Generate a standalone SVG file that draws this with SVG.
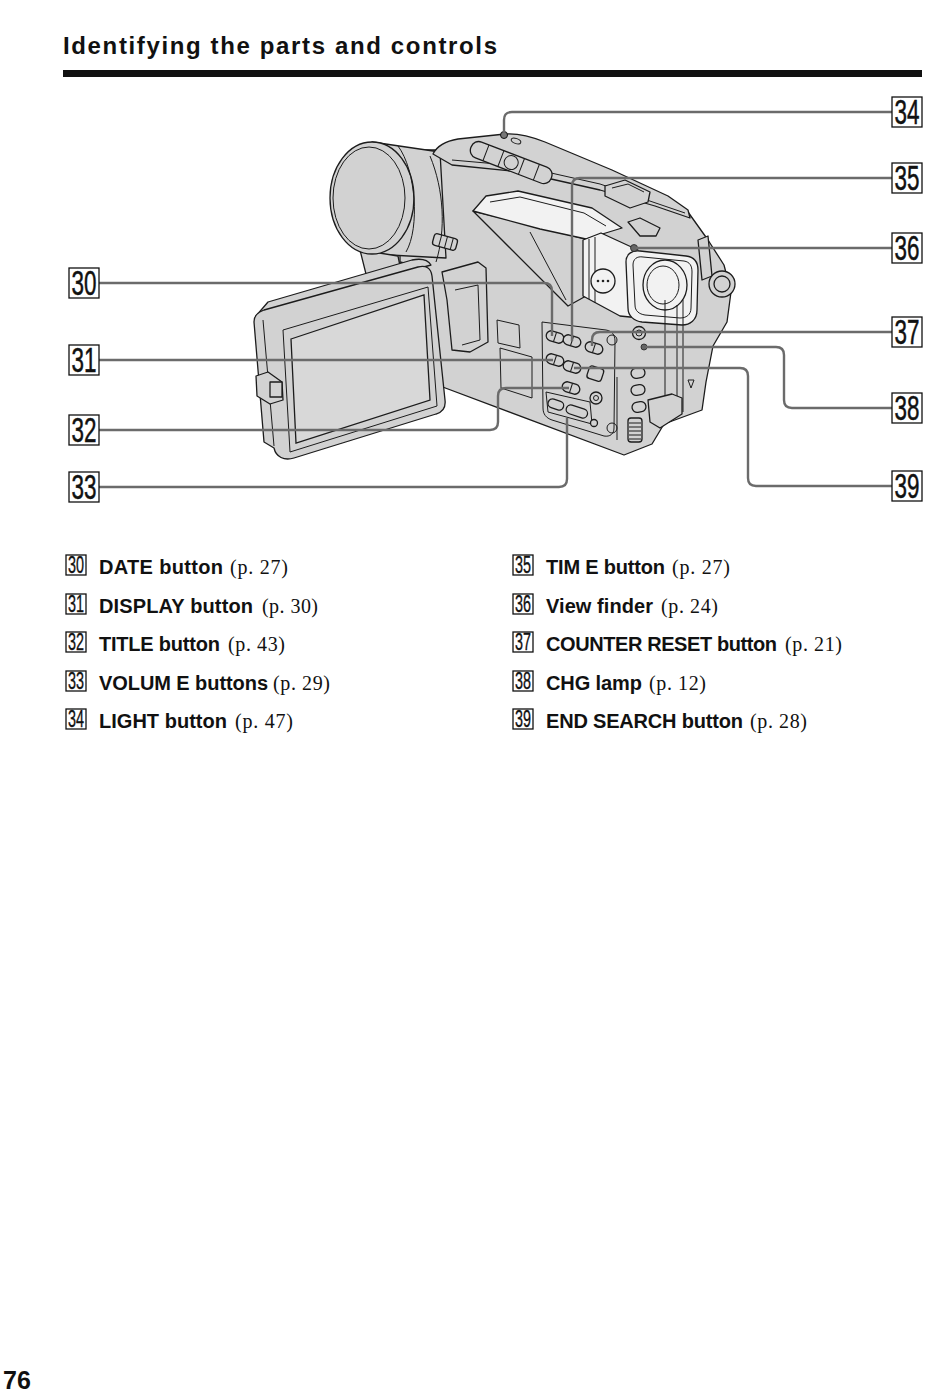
<svg xmlns="http://www.w3.org/2000/svg" width="950" height="1392" viewBox="0 0 950 1392">
<style>
.o{fill:#d2d2d2;stroke:#1c1c1c;stroke-width:1.3;stroke-linejoin:round}
.w{fill:#f2f2f2;stroke:#1c1c1c;stroke-width:1.3;stroke-linejoin:round}
.l{fill:none;stroke:#1c1c1c;stroke-width:1;stroke-linejoin:round}
.lead{fill:none;stroke:#6b6b6b;stroke-width:2.4;stroke-linejoin:round}
.box{fill:#fff;stroke:#111;stroke-width:1.3}
.num{font-family:"Liberation Sans",Arial,sans-serif;font-size:35px;text-anchor:middle;fill:#111;stroke:#111;stroke-width:0.5}
.lnum{font-family:"Liberation Sans",Arial,sans-serif;font-size:23px;text-anchor:middle;fill:#111;stroke:#111;stroke-width:0.35}
.lbl{font-family:"Liberation Sans",Arial,sans-serif;font-weight:bold;font-size:20px;fill:#111}
.pg{font-family:"Liberation Serif","Times New Roman",serif;font-size:20px;fill:#111}
</style>
<defs>
<g id="pill"><rect x="-9" y="-5" width="18" height="10" rx="5" class="o"/><line x1="0" y1="-5" x2="0" y2="5" stroke="#1c1c1c" stroke-width="1"/></g>
<g id="vpill"><rect x="-7" y="-5" width="14" height="10" rx="5" class="o"/></g>
</defs>
<rect width="950" height="1392" fill="#fff"/>

<g id="header">
<text x="63" y="54" font-family="'Liberation Sans',Arial,sans-serif" font-weight="bold" font-size="24" textLength="434" lengthAdjust="spacing" fill="#111">Identifying the parts and controls</text>
<rect x="63" y="70" width="859" height="7" fill="#111"/>
</g>

<g id="camera">
<path class="o" d="M 400 150 L 445 150 L 600 183 L 688 212 L 708 240 L 724 265 L 731 292 L 727 322 L 713 346 L 706 382 L 702 410 L 664 424 L 652 444 L 624 455 L 440 386 L 432 330 L 424 268 L 400 262 Z"/>
<path class="o" d="M 372 142 L 440 152 L 446 258 L 372 254 Z"/>
<path class="o" d="M 360 250 L 398 256 L 402 276 L 368 282 Z"/>
<ellipse class="o" cx="372" cy="198" rx="42" ry="56"/>
<ellipse class="l" cx="369" cy="198" rx="36" ry="51"/>
<path class="l" d="M 398 146 C 416 170 420 228 406 252"/>
<path class="l" d="M 430 156 C 444 190 446 230 436 262"/>
<g transform="rotate(15 445 242)"><rect x="433" y="236" width="24" height="12" rx="3" class="o"/><path class="l" d="M 440 236 V 248 M 446 236 V 248 M 452 236 V 248"/></g>
<path class="o" d="M 433 154 C 437 146 446 141 458 139 L 505 134 C 518 133 530 136 545 142 L 612 170 L 668 196 L 688 210 L 690 218 L 655 206 L 600 190 L 520 172 L 452 165 Z"/>
<path class="l" d="M 452 160 L 520 166 L 600 184 L 685 213"/>
<g transform="rotate(21 511 163)"><rect x="468" y="154" width="86" height="17" rx="8" class="o"/><path class="l" d="M 484 154 V 171 M 500 154 V 171 M 522 154 V 171 M 538 154 V 171"/><circle cx="511" cy="162.5" r="7" class="l"/></g>
<circle cx="504" cy="135" r="3.5" fill="#777" stroke="#111" stroke-width="1"/>
<ellipse cx="516" cy="141" rx="5" ry="2.5" transform="rotate(20 516 141)" class="l"/>
<path class="o" d="M 605 186 L 625 180 L 650 192 L 648 202 L 630 208 L 605 196 Z"/>
<path class="l" d="M 612 188 L 628 184 L 644 192"/>
<path class="o" d="M 628 222 L 640 218 L 660 228 L 656 236 L 640 236 Z"/>
<path class="o" d="M 473 211 L 586 239 L 586 296 L 568 306 Z"/>
<path class="l" d="M 530 232 L 566 300"/>
<path class="w" d="M 473 211 L 486 196 L 518 191 L 592 208 L 622 228 L 586 239 L 540 229 Z"/>
<path class="l" d="M 490 202 L 520 197 L 584 213 L 606 226"/>
<path class="w" d="M 583 240 L 601 233 L 638 250 L 640 318 L 620 316 L 583 296 Z"/>
<path class="l" d="M 589 239 L 589 299 M 595 237 L 595 303"/>
<circle cx="603" cy="281" r="12" class="w"/>
<circle cx="598" cy="281" r="1.3" fill="#222"/><circle cx="603" cy="281" r="1.3" fill="#222"/><circle cx="608" cy="281" r="1.3" fill="#222"/>
<path class="w" d="M 626 262 C 626 254 632 250 640 251 L 686 256 C 694 257 698 262 698 270 L 697 310 C 697 320 690 325 682 325 L 642 322 C 634 321 628 316 628 308 Z"/>
<path class="l" d="M 633 265 C 633 259 637 256 643 257 L 684 261 C 690 262 692 266 692 272 L 691 308 C 691 315 686 318 680 318 L 645 315 C 639 314 635 311 635 305 Z"/>
<ellipse class="w" cx="665" cy="285" rx="22" ry="25"/>
<ellipse class="l" cx="663" cy="285" rx="16" ry="19"/>
<circle cx="634" cy="248" r="3.5" fill="#666" stroke="#222" stroke-width="0.8"/>
<path class="o" d="M 698 240 L 708 236 L 712 276 L 702 280 Z"/>
<circle cx="722" cy="284" r="13" class="o"/>
<circle cx="722" cy="284" r="8" class="o"/>
<path class="l" d="M 665 300 L 665 420 M 677 305 L 677 415 M 683 300 L 683 412"/>
<path class="o" d="M 648 400 L 672 394 L 682 398 L 682 414 L 660 428 L 650 422 Z"/>
<path class="l" d="M 617 377 L 617 440"/>
<path class="l" d="M 688 380 L 694 380 L 691 388 Z"/>
<path class="o" d="M 442 272 L 478 262 L 486 268 L 488 342 L 470 352 L 452 350 L 447 300 Z"/>
<path class="l" d="M 455 290 L 478 285 L 480 340 L 462 345"/>
<path class="l" d="M 497 320 L 519 325 L 520 348 L 498 343 Z"/>
<path class="l" d="M 500 348 L 532 357 L 532 398 L 501 388 Z"/>
<path class="l" d="M 542 322 L 606 330 C 612 331 615 335 615 341 L 614 428 C 614 434 610 437 604 436 L 552 420 C 546 418 543 414 543 408 Z"/>
<path class="l" d="M 546 392 L 590 402 L 592 424 L 548 412 Z"/>
<use href="#pill" transform="translate(555 337) rotate(18)"/>
<use href="#pill" transform="translate(572 341) rotate(18)"/>
<use href="#pill" transform="translate(594 348) rotate(18)"/>
<use href="#pill" transform="translate(555 360) rotate(18)"/>
<use href="#pill" transform="translate(572 367) rotate(18)"/>
<use href="#pill" transform="translate(571 388) rotate(18)"/>
<rect x="588" y="367" width="15" height="13" rx="3" class="o" transform="rotate(18 595 373)"/>
<circle cx="596" cy="398" r="6" class="o"/><circle cx="596" cy="398" r="2.5" class="l"/>
<rect x="548" y="400" width="16" height="9" rx="4.5" class="o" transform="rotate(18 556 404)"/>
<rect x="566" y="407" width="22" height="9" rx="4.5" class="o" transform="rotate(18 577 411)"/>
<circle cx="594" cy="423" r="3.5" class="o"/>
<circle cx="612" cy="340" r="5" class="l"/>
<circle cx="612" cy="428" r="5" class="l"/>
<circle cx="639" cy="333" r="6.5" class="o"/><circle cx="639" cy="333" r="3" class="l"/>
<circle cx="644" cy="347" r="3" fill="#666" stroke="#222" stroke-width="0.8"/>
<use href="#vpill" transform="translate(638 373) rotate(-10)"/>
<use href="#vpill" transform="translate(638 390) rotate(-10)"/>
<use href="#vpill" transform="translate(639 407) rotate(-10)"/>
<rect x="628" y="418" width="14" height="24" rx="3" class="o"/>
<path class="l" d="M 629 423 H 641 M 629 427 H 641 M 629 431 H 641 M 629 435 H 641 M 629 439 H 641"/>
<path class="o" d="M 256 316 L 268 302 L 412 260 C 422 258 428 260 431 265 L 420 268 L 264 312 Z"/>
<path class="o" d="M 254 322 C 254 315 258 312 264 310 L 418 267 C 426 265 431 268 432 276 L 445 400 C 446 408 443 412 436 414 L 294 458 C 284 461 276 457 274 448 L 264 442 Z"/>
<path class="l" d="M 263 320 L 274 446"/>
<path class="l" d="M 283 330 L 428 287 L 437 406 L 290 452 Z"/>
<path d="M 291 339 L 424 295 L 430 400 L 296 443 Z" fill="#d8d8d8" stroke="#1c1c1c" stroke-width="1.3"/>
<path class="o" d="M 256 376 L 268 372 L 282 382 L 283 400 L 270 404 L 257 396 Z"/>
<rect x="270" y="382" width="12" height="15" class="o"/>
</g>

<g id="connectors">
<path class="lead" d="M 892 112 L 512 112 Q 504 112 504 120 L 504 133"/>
<path class="lead" d="M 892 178 L 580 178 Q 572 178 572 186 L 572 341"/>
<path class="lead" d="M 892 248 L 636 248"/>
<path class="lead" d="M 892 332 L 600 332 Q 592 332 592 340 L 592 346"/>
<path class="lead" d="M 646 347 L 776 347 Q 784 347 784 355 L 784 400 Q 784 408 792 408 L 892 408"/>
<path class="lead" d="M 574 368 L 740 368 Q 748 368 748 376 L 748 478 Q 748 486 756 486 L 892 486"/>
<path class="lead" d="M 99 283 L 544 283 Q 552 283 552 291 L 552 336"/>
<path class="lead" d="M 99 360 L 553 360"/>
<path class="lead" d="M 99 430 L 490 430 Q 498 430 498 422 L 498 396 Q 498 388 506 388 L 569 388"/>
<path class="lead" d="M 99 487 L 559 487 Q 567 487 567 479 L 567 418"/>
</g>

<g id="label-30"><rect class="box" x="69" y="268" width="30" height="30"/><text class="num" x="84" y="295" textLength="25" lengthAdjust="spacingAndGlyphs">30</text></g>
<g id="label-31"><rect class="box" x="69" y="345" width="30" height="30"/><text class="num" x="84" y="372" textLength="25" lengthAdjust="spacingAndGlyphs">31</text></g>
<g id="label-32"><rect class="box" x="69" y="415" width="30" height="30"/><text class="num" x="84" y="442" textLength="25" lengthAdjust="spacingAndGlyphs">32</text></g>
<g id="label-33"><rect class="box" x="69" y="472" width="30" height="30"/><text class="num" x="84" y="499" textLength="25" lengthAdjust="spacingAndGlyphs">33</text></g>
<g id="label-34"><rect class="box" x="892" y="97" width="30" height="30"/><text class="num" x="907" y="124" textLength="25" lengthAdjust="spacingAndGlyphs">34</text></g>
<g id="label-35"><rect class="box" x="892" y="163" width="30" height="30"/><text class="num" x="907" y="190" textLength="25" lengthAdjust="spacingAndGlyphs">35</text></g>
<g id="label-36"><rect class="box" x="892" y="233" width="30" height="30"/><text class="num" x="907" y="260" textLength="25" lengthAdjust="spacingAndGlyphs">36</text></g>
<g id="label-37"><rect class="box" x="892" y="317" width="30" height="30"/><text class="num" x="907" y="344" textLength="25" lengthAdjust="spacingAndGlyphs">37</text></g>
<g id="label-38"><rect class="box" x="892" y="393" width="30" height="30"/><text class="num" x="907" y="420" textLength="25" lengthAdjust="spacingAndGlyphs">38</text></g>
<g id="label-39"><rect class="box" x="892" y="471" width="30" height="30"/><text class="num" x="907" y="498" textLength="25" lengthAdjust="spacingAndGlyphs">39</text></g>

<g id="item-30"><rect class="box" x="66" y="555" width="20" height="20"/><text class="lnum" x="76" y="573" textLength="16" lengthAdjust="spacingAndGlyphs">30</text><text class="lbl" x="99" y="574" textLength="124" lengthAdjust="spacing">DATE button</text><text class="pg" x="230" y="574" textLength="58" lengthAdjust="spacing">(p. 27)</text></g>
<g id="item-31"><rect class="box" x="66" y="594" width="20" height="20"/><text class="lnum" x="76" y="612" textLength="16" lengthAdjust="spacingAndGlyphs">31</text><text class="lbl" x="99" y="613" textLength="154" lengthAdjust="spacing">DISPLAY button</text><text class="pg" x="262" y="613" textLength="56" lengthAdjust="spacing">(p. 30)</text></g>
<g id="item-32"><rect class="box" x="66" y="632" width="20" height="20"/><text class="lnum" x="76" y="650" textLength="16" lengthAdjust="spacingAndGlyphs">32</text><text class="lbl" x="99" y="651" textLength="121" lengthAdjust="spacing">TITLE button</text><text class="pg" x="228" y="651" textLength="57" lengthAdjust="spacing">(p. 43)</text></g>
<g id="item-33"><rect class="box" x="66" y="671" width="20" height="20"/><text class="lnum" x="76" y="689" textLength="16" lengthAdjust="spacingAndGlyphs">33</text><text class="lbl" x="99" y="690" textLength="169" lengthAdjust="spacing">VOLUM E buttons</text><text class="pg" x="273" y="690" textLength="57" lengthAdjust="spacing">(p. 29)</text></g>
<g id="item-34"><rect class="box" x="66" y="709" width="20" height="20"/><text class="lnum" x="76" y="727" textLength="16" lengthAdjust="spacingAndGlyphs">34</text><text class="lbl" x="99" y="728" textLength="128" lengthAdjust="spacing">LIGHT button</text><text class="pg" x="235" y="728" textLength="58" lengthAdjust="spacing">(p. 47)</text></g>

<g id="item-35"><rect class="box" x="513" y="555" width="20" height="20"/><text class="lnum" x="523" y="573" textLength="16" lengthAdjust="spacingAndGlyphs">35</text><text class="lbl" x="546" y="574" textLength="119" lengthAdjust="spacing">TIM E button</text><text class="pg" x="672" y="574" textLength="58" lengthAdjust="spacing">(p. 27)</text></g>
<g id="item-36"><rect class="box" x="513" y="594" width="20" height="20"/><text class="lnum" x="523" y="612" textLength="16" lengthAdjust="spacingAndGlyphs">36</text><text class="lbl" x="546" y="613" textLength="107" lengthAdjust="spacing">View finder</text><text class="pg" x="661" y="613" textLength="57" lengthAdjust="spacing">(p. 24)</text></g>
<g id="item-37"><rect class="box" x="513" y="632" width="20" height="20"/><text class="lnum" x="523" y="650" textLength="16" lengthAdjust="spacingAndGlyphs">37</text><text class="lbl" x="546" y="651" textLength="231" lengthAdjust="spacing">COUNTER RESET button</text><text class="pg" x="785" y="651" textLength="57" lengthAdjust="spacing">(p. 21)</text></g>
<g id="item-38"><rect class="box" x="513" y="671" width="20" height="20"/><text class="lnum" x="523" y="689" textLength="16" lengthAdjust="spacingAndGlyphs">38</text><text class="lbl" x="546" y="690" textLength="96" lengthAdjust="spacing">CHG lamp</text><text class="pg" x="649" y="690" textLength="57" lengthAdjust="spacing">(p. 12)</text></g>
<g id="item-39"><rect class="box" x="513" y="709" width="20" height="20"/><text class="lnum" x="523" y="727" textLength="16" lengthAdjust="spacingAndGlyphs">39</text><text class="lbl" x="546" y="728" textLength="197" lengthAdjust="spacing">END SEARCH button</text><text class="pg" x="750" y="728" textLength="57" lengthAdjust="spacing">(p. 28)</text></g>

<g id="page-number"><text x="3" y="1389" font-family="'Liberation Sans',Arial,sans-serif" font-weight="bold" font-size="25" fill="#111">76</text></g>
</svg>
